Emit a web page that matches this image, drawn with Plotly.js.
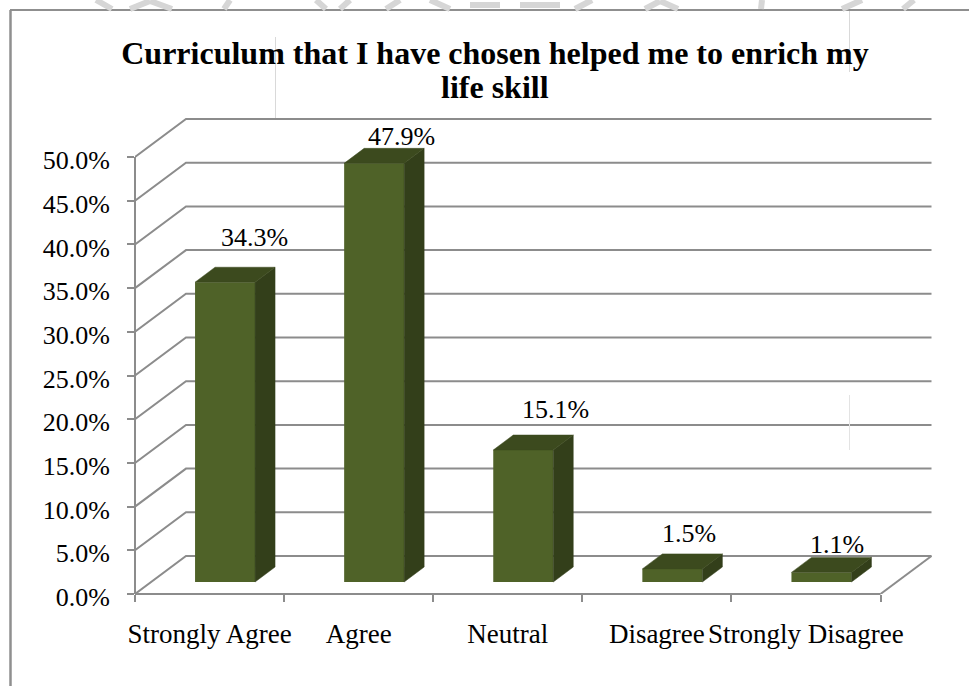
<!DOCTYPE html>
<html><head><meta charset="utf-8">
<script src="https://cdn.plot.ly/plotly-3.0.1.min.js"></script>
<style>html,body{margin:0;padding:0;background:#fff}</style></head>
<body><div id="chart" style="width:969px;height:686px"></div>
<script>
const categories = ["Strongly Agree","Agree","Neutral","Disagree","Strongly Disagree"];
const values = [34.3,47.9,15.1,1.5,1.1];
const valueLabels = ["34.3%","47.9%","15.1%","1.5%","1.1%"];
const yTicks = [0,5,10,15,20,25,30,35,40,45,50];
const titleLine1 = "Curriculum that I have chosen helped me to enrich my";
const titleLine2 = "life skill";

const labelShiftX = [29,27,32,17,16];
const labelShiftY = [45,27,41,35,28];

const W=969,H=686,L=135,R=934,T=116,B=594;
const pxPerCat=149.1, pxPerPct=8.74;
const depthX=51/pxPerCat, depthY=38/pxPerPct;
const barW=60/pxPerCat, barShift=15.5/pxPerCat, barBase=12/pxPerPct;
const barDX=20/pxPerCat, barDY=15/pxPerPct;
const xMin=-0.5, xMax=xMin+(R-L)/pxPerCat, yMax=(B-T)/pxPerPct, xEnd=categories.length-0.5;
const GRID='#8c8c8c', FRONT='#4f6228', SIDE='#333f1a', TOP='#3c4a1e';
const FONT='"Liberation Serif", serif';

const shapes=[];
function path(pts,o){
  const d='M'+pts.map(p=>p[0]+','+p[1]).join('L')+(o.closed?'Z':'');
  shapes.push({type:'path',xref:'x',yref:'y',path:d,layer:o.layer||'below',
    line:{color:o.color||GRID,width:o.width===undefined?2:o.width},fillcolor:o.fill||'rgba(0,0,0,0)'});
}
function paperLine(x0,y0,x1,y1,color,width){
  shapes.push({type:'line',xref:'paper',yref:'paper',
    x0:(x0-L)/(R-L),x1:(x1-L)/(R-L),y0:(B-y0)/(B-T),y1:(B-y1)/(B-T),line:{color,width},layer:'above'});
}
// walls and floor
yTicks.forEach(v=>path([[xMin,v],[xMin+depthX,v+depthY],[xEnd+depthX,v+depthY]],{}));
path([[xEnd,0],[xEnd+depthX,depthY]],{});
// axis lines (unclipped)
paperLine(135,157,135,B,GRID,2);
paperLine(135,B,880.5,B,GRID,2);
// side + top of each bar
values.forEach((v,i)=>{
  const x0=i-barW/2+barShift,x1=x0+barW,y0=barBase,y1=barBase+v;
  path([[x1,y0],[x1+barDX,y0+barDY],[x1+barDX,y1+barDY],[x1,y1]],{closed:true,fill:SIDE,color:SIDE,width:0.5,layer:'above'});
  path([[x0,y1],[x1,y1],[x1+barDX,y1+barDY],[x0+barDX,y1+barDY]],{closed:true,fill:TOP,color:TOP,width:0.5,layer:'above'});
});
// frame of the picture
paperLine(10.5,10,10.5,686,'#8f8f8f',2.5);
paperLine(10,10,969,10,'#8f8f8f',2);
// scan artefacts: faint watermark above the frame, hairlines in the chart
const WM='#d6d6d6';
[[96,0,112,9],[130,9,150,1],[150,1,172,9],[224,9,230,0],[316,0,326,9],[340,9,350,0],
 [386,9,400,0],[430,0,450,9],[470,5,500,5],[520,5,560,5],[575,9,592,0],[645,9,660,1],[660,1,678,9],
 [762,0,761,9],[842,9,862,0],[903,9,914,0]].forEach(s=>paperLine(s[0],s[1],s[2],s[3],WM,6));
paperLine(275.5,37,275.5,118,'#d9d9d9',1);
paperLine(849.5,11,849.5,72,'#d9d9d9',1);
paperLine(849.5,395,849.5,450,'#e3e3e3',1);

const annotations=values.map((v,i)=>({
  x:i+barShift,y:barBase+v,xref:'x',yref:'y',text:valueLabels[i],showarrow:false,
  xshift:labelShiftX[i],yshift:labelShiftY[i],xanchor:'center',yanchor:'middle',
  font:{family:FONT,size:26,color:'#000'}
}));
annotations.push({xref:'paper',yref:'paper',x:(495-L)/(R-L),y:(B-86.5)/(B-T),text:titleLine2,showarrow:false,
  xanchor:'center',yanchor:'middle',font:{family:FONT,size:32,color:'#000',weight:'bold'}});

Plotly.newPlot('chart',[{
  type:'bar',x:categories,y:values,base:barBase,width:barW,offset:-barW/2+barShift,
  marker:{color:FRONT,line:{width:0}},hoverinfo:'skip'
}],{
  width:W,height:H,showlegend:false,paper_bgcolor:'#fff',plot_bgcolor:'#fff',
  margin:{l:L,r:W-R,t:T,b:H-B,pad:0},
  title:{text:titleLine1,x:495/W,xanchor:'center',y:1-53/H,yanchor:'middle',
    font:{family:FONT,size:32,color:'#000',weight:'bold'}},
  xaxis:{type:'category',categoryorder:'array',categoryarray:categories,range:[xMin,xMax],
    tickson:'boundaries',ticks:'outside',ticklen:7,tickwidth:2,tickcolor:GRID,tickangle:0,
    showgrid:false,zeroline:false,showline:false,ticklabelstandoff:21,
    tickfont:{family:FONT,size:27,color:'#000'},fixedrange:true},
  yaxis:{range:[0,yMax],tickmode:'array',tickvals:yTicks,ticktext:yTicks.map(v=>v.toFixed(1)+'%'),
    ticks:'outside',ticklen:7,tickwidth:2,tickcolor:GRID,showgrid:false,zeroline:false,showline:false,
    tickfont:{family:FONT,size:26,color:'#000'},ticklabelstandoff:12,ticklabelshift:3,fixedrange:true},
  shapes,annotations
},{displayModeBar:false,staticPlot:true});
</script></body></html>
